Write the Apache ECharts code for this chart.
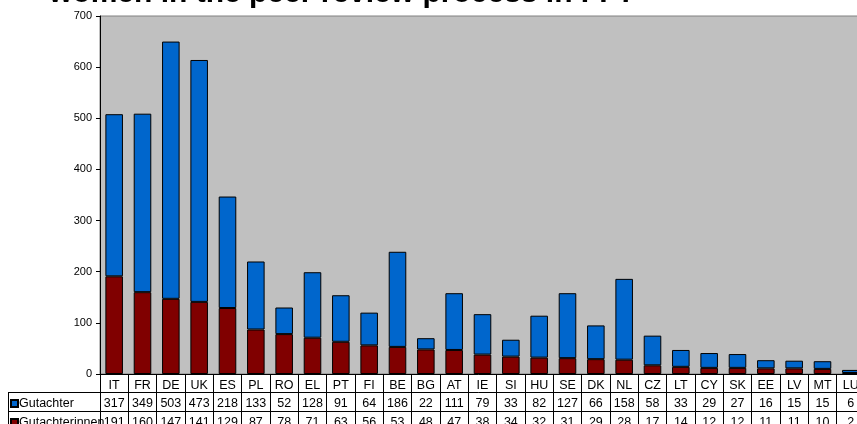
<!DOCTYPE html>
<html>
<head>
<meta charset="utf-8">
<script src="https://cdn.jsdelivr.net/npm/echarts@6/dist/echarts.min.js"></script>
<style>
html,body{margin:0;padding:0;background:#fff;}
#chart{width:857px;height:424px;}
</style>
</head>
<body>
<div id="chart"></div>
<script>
var titleText = 'women in the peer review process in FP7';
var categories = ['IT','FR','DE','UK','ES','PL','RO','EL','PT','FI','BE','BG','AT','IE','SI','HU','SE','DK','NL','CZ','LT','CY','SK','EE','LV','MT','LU'];
var gutachter = [317,349,503,473,218,133,52,128,91,64,186,22,111,79,33,82,127,66,158,58,33,29,27,16,15,15,6];
var gutachterinnen = [191,160,147,141,129,87,78,71,63,56,53,48,47,38,34,32,31,29,28,17,14,12,12,11,11,10,2];
var yTicks = [0,100,200,300,400,500,600,700];

var FONT = 'Liberation Sans, Arial, sans-serif';
var chart = echarts.init(document.getElementById('chart'), null, {renderer:'canvas'});

function tableAxis(offset, tickLen, formatter){
  return {
    type:'category', gridIndex:0, position:'bottom', offset:offset,
    data:categories,
    axisLine:{show:true, lineStyle:{color:'#000', width:1}},
    axisTick:{show:true, interval:0, length:tickLen, lineStyle:{color:'#000', width:1}},
    axisLabel:{show:true, interval:0, margin:5, color:'#000', fontSize:12.5, fontFamily:FONT, formatter:formatter},
    splitLine:{show:false}
  };
}

function legendItem(name, top){
  return {
    orient:'horizontal', left:10, top:top, itemGap:0,
    itemWidth:7, itemHeight:7, icon:'rect',
    data:[name],
    textStyle:{fontFamily:FONT, fontSize:12.5, color:'#000', padding:[0,0,0,-4]},
    padding:0, z:1
  };
}

var option = {
  animation:false,
  backgroundColor:'#fff',
  title:{
    text:titleText, left:44, top:-26,
    textStyle:{fontFamily:FONT, fontWeight:'bold', fontSize:30, color:'#000'}
  },
  legend:[
    legendItem('Gutachter', 397),
    legendItem('Gutachterinnen', 416)
  ],
  grid:{
    left:100, width:765, top:16, bottom:50,
    outerBoundsMode:'none', containLabel:false,
    show:true, backgroundColor:'#C0C0C0', borderColor:'#808080', borderWidth:1
  },
  xAxis:[
    tableAxis(0, 18, function(v,i){return v;}),
    tableAxis(18, 19, function(v,i){return String(gutachter[i]);}),
    tableAxis(37, 20, function(v,i){return String(gutachterinnen[i]);})
  ],
  yAxis:{
    type:'value', min:yTicks[0], max:yTicks[yTicks.length-1], interval:100,
    axisLine:{show:true, lineStyle:{color:'#000', width:1}},
    axisTick:{show:true, length:4, lineStyle:{color:'#000'}},
    axisLabel:{color:'#000', fontSize:11, fontFamily:FONT, margin:8},
    splitLine:{show:false}
  },
  series:[
    {
      name:'Gutachterinnen', type:'bar', stack:'total', xAxisIndex:0,
      data:gutachterinnen, barCategoryGap:'38%',
      itemStyle:{color:'#800000', borderColor:'#000', borderWidth:1}
    },
    {
      name:'Gutachter', type:'bar', stack:'total', xAxisIndex:0,
      data:gutachter, barCategoryGap:'38%',
      itemStyle:{color:'#0066CC', borderColor:'#000', borderWidth:1}
    }
  ],
  graphic:[
    {type:'line', shape:{x1:8, y1:392.5, x2:100, y2:392.5}, style:{stroke:'#000', lineWidth:1}, silent:true},
    {type:'line', shape:{x1:8, y1:411.5, x2:100, y2:411.5}, style:{stroke:'#000', lineWidth:1}, silent:true},
    {type:'line', shape:{x1:8.5, y1:392, x2:8.5, y2:424}, style:{stroke:'#000', lineWidth:1}, silent:true}
  ]
};
chart.setOption(option);
</script>
</body>
</html>
